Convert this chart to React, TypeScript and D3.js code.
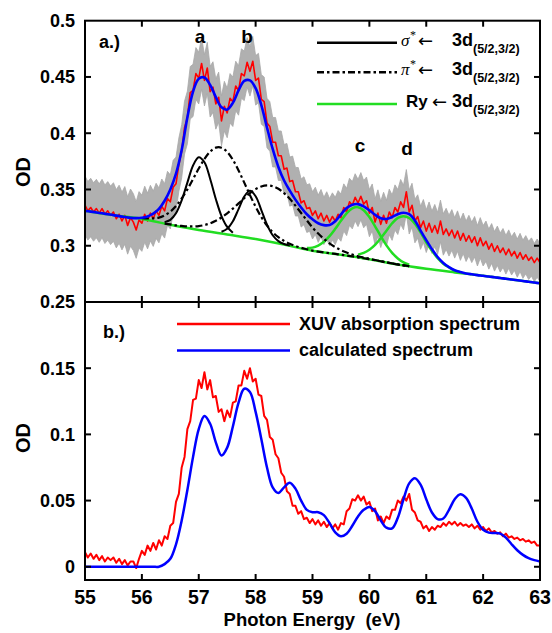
import React from 'react';
import * as d3 from 'd3';

// ---------- data ----------
const E_MIN = 55;
const E_MAX = 63;
const xTicks = [55, 56, 57, 58, 59, 60, 61, 62, 63];
const topYTicks = [0.25, 0.3, 0.35, 0.4, 0.45, 0.5];
const topYLabels = ['0.25', '0.3', '0.35', '0.4', '0.45', '0.5'];
const botYTicks = [0, 0.05, 0.1, 0.15];
const botYLabels = ['0', '0.05', '0.1', '0.15'];

// (a) measured XUV absorption, step 0.05 eV from 55
const redTopStart = 55;
const redTopStep = 0.05;
const redTop = [
  0.336, 0.331, 0.334, 0.330, 0.333, 0.329, 0.333, 0.328, 0.331, 0.327,
  0.330, 0.324, 0.328, 0.322, 0.327, 0.318, 0.325, 0.321, 0.314, 0.323,
  0.320, 0.328, 0.322, 0.329, 0.324, 0.331, 0.327, 0.335, 0.331, 0.342,
  0.339, 0.352, 0.355, 0.372, 0.384, 0.405, 0.414, 0.436, 0.438, 0.453,
  0.449, 0.462, 0.447, 0.458, 0.437, 0.441, 0.426, 0.432, 0.411, 0.424,
  0.418, 0.431, 0.428, 0.442, 0.438, 0.453, 0.451, 0.463, 0.455, 0.464,
  0.447, 0.449, 0.430, 0.428, 0.409, 0.406, 0.392, 0.392, 0.380, 0.380,
  0.368, 0.369, 0.357, 0.358, 0.348, 0.348, 0.338, 0.340, 0.333, 0.334,
  0.327, 0.331, 0.324, 0.329, 0.322, 0.327, 0.321, 0.326, 0.322, 0.328,
  0.325, 0.334, 0.330, 0.339, 0.336, 0.343, 0.338, 0.344, 0.337, 0.340,
  0.329, 0.334, 0.321, 0.329, 0.319, 0.327, 0.320, 0.330, 0.325, 0.334,
  0.330, 0.339, 0.334, 0.348, 0.330, 0.336, 0.322, 0.326, 0.316, 0.322,
  0.313, 0.320, 0.312, 0.318, 0.311, 0.322, 0.310, 0.315, 0.309, 0.314,
  0.307, 0.313, 0.305, 0.311, 0.304, 0.309, 0.303, 0.308, 0.300, 0.307,
  0.300, 0.304, 0.297, 0.302, 0.295, 0.300, 0.294, 0.298, 0.292, 0.297,
  0.291, 0.295, 0.289, 0.294, 0.288, 0.292, 0.287, 0.290, 0.285, 0.289,
  0.285,
];

// error band half width (grey), knots every 0.5 eV
const bandKnotE = [55, 55.5, 56, 56.5, 57, 57.5, 58, 58.5, 59, 59.5, 60, 60.5, 61, 61.5, 62, 62.5, 63];
const bandHalf = [0.026, 0.026, 0.025, 0.024, 0.023, 0.022, 0.022, 0.022, 0.021, 0.021, 0.021, 0.020, 0.019, 0.018, 0.018, 0.017, 0.017];

// (a) fit, step 0.1 eV
const blueTopStart = 55;
const blueTopStep = 0.1;
const blueTop = [
  0.3310, 0.3303, 0.3296, 0.3288, 0.3280, 0.3272, 0.3263, 0.3255, 0.3248, 0.3245,
  0.3248, 0.3260, 0.3285, 0.3328, 0.3400, 0.3500, 0.3640, 0.3850, 0.4140, 0.4370,
  0.4485, 0.4495, 0.4430, 0.4320, 0.4230, 0.4210, 0.4270, 0.4380, 0.4465, 0.4470,
  0.4400, 0.4250, 0.4050, 0.3860, 0.3700, 0.3580, 0.3490, 0.3410, 0.3340, 0.3280,
  0.3235, 0.3200, 0.3183, 0.3185, 0.3218, 0.3278, 0.3335, 0.3365, 0.3370, 0.3350,
  0.3315, 0.3275, 0.3245, 0.3238, 0.3255, 0.3280, 0.3293, 0.3280, 0.3225, 0.3135,
  0.3050, 0.2970, 0.2900, 0.2847, 0.2810, 0.2782, 0.2766, 0.2754, 0.2746, 0.2739,
  0.2733, 0.2726, 0.2720, 0.2713, 0.2707, 0.2700, 0.2693, 0.2686, 0.2680, 0.2673,
  0.2666,
];

// Rydberg baseline, step 0.5 eV
const baseStart = 55;
const baseStep = 0.5;
const baseline = [0.3310, 0.3272, 0.3238, 0.3187, 0.3140, 0.3100, 0.3060, 0.3010, 0.2955, 0.2920, 0.2880, 0.2833, 0.2795, 0.2763, 0.2733, 0.2700, 0.2666];

// sigma* components (solid black), step 0.1
const sigma1Start = 56.4;
const sigma1 = [0.3210, 0.3230, 0.3290, 0.3404, 0.3561, 0.3713, 0.3787, 0.3742, 0.3596, 0.3416, 0.3264, 0.3167, 0.3115];
const sigma2Start = 57.4;
const sigma2 = [0.3124, 0.3151, 0.3218, 0.3326, 0.3437, 0.3488, 0.3440, 0.3317, 0.3187, 0.3093, 0.3041, 0.3015, 0.3003];

// pi* components (dash-dot black), step 0.1
const pi1Start = 56.0;
const pi1 = [
  0.3245, 0.3242, 0.3244, 0.3250, 0.3270, 0.3303, 0.3353, 0.3420, 0.3501, 0.3593,
  0.3686, 0.3771, 0.3836, 0.3872, 0.3871, 0.3834, 0.3764, 0.3669, 0.3561, 0.3450,
  0.3347, 0.3255, 0.3180, 0.3120, 0.3076, 0.3043, 0.3017, 0.2998, 0.2982, 0.2969,
  0.2957, 0.2948, 0.2941, 0.2934, 0.2927, 0.2920, 0.2913, 0.2905, 0.2897, 0.2889,
  0.2880, 0.2871, 0.2862, 0.2852, 0.2843, 0.2833, 0.2826, 0.2818,
];
const pi2Start = 56.4;
const pi2 = [
  0.3197, 0.3190, 0.3181, 0.3176, 0.3172, 0.3172, 0.3175, 0.3184, 0.3199, 0.3222,
  0.3251, 0.3288, 0.3330, 0.3376, 0.3423, 0.3467, 0.3503, 0.3527, 0.3536, 0.3529,
  0.3506, 0.3468, 0.3417, 0.3356, 0.3291, 0.3226, 0.3162, 0.3108, 0.3061, 0.3021,
  0.2988, 0.2961, 0.2940, 0.2922, 0.2907, 0.2895, 0.2884, 0.2873, 0.2863, 0.2853,
  0.2843, 0.2834, 0.2826, 0.2818,
];

// Rydberg peaks c and d (green), step 0.1
const ryCStart = 58.9;
const ryC = [0.2979, 0.2983, 0.3002, 0.3035, 0.3085, 0.3150, 0.3222, 0.3288, 0.3332, 0.3343, 0.3316, 0.3255, 0.3173, 0.3085, 0.3003, 0.2937, 0.2887, 0.2852, 0.2831];
const ryDStart = 59.8;
const ryD = [0.2921, 0.2936, 0.2964, 0.3007, 0.3067, 0.3134, 0.3200, 0.3247, 0.3263, 0.3246, 0.3195, 0.3119, 0.3030, 0.2956, 0.2889, 0.2840, 0.2807, 0.2778, 0.2764];

// (b) baseline-subtracted absorption, step 0.05
const redBotStart = 55;
const redBotStep = 0.05;
const redBot = [
  0.011, 0.007, 0.010, 0.006, 0.009, 0.005, 0.008, 0.004, 0.007, 0.005,
  0.007, 0.003, 0.006, 0.002, 0.005, 0.001, 0.004, 0.004, -0.001, 0.006,
  0.012, 0.009, 0.016, 0.012, 0.018, 0.013, 0.020, 0.016, 0.023, 0.021,
  0.031, 0.033, 0.049, 0.055, 0.075, 0.083, 0.104, 0.110, 0.126, 0.127,
  0.141, 0.135, 0.147, 0.134, 0.141, 0.128, 0.129, 0.117, 0.119, 0.110,
  0.118, 0.113, 0.124, 0.125, 0.137, 0.137, 0.148, 0.142, 0.150, 0.140,
  0.142, 0.130, 0.129, 0.114, 0.111, 0.098, 0.096, 0.085, 0.082, 0.071,
  0.068, 0.057, 0.055, 0.046, 0.046, 0.040, 0.042, 0.036, 0.037, 0.033,
  0.036, 0.032, 0.035, 0.031, 0.034, 0.030, 0.033, 0.029, 0.032, 0.028,
  0.033, 0.032, 0.042, 0.044, 0.051, 0.050, 0.054, 0.050, 0.053, 0.047,
  0.049, 0.042, 0.044, 0.035, 0.038, 0.033, 0.038, 0.036, 0.043, 0.043,
  0.050, 0.048, 0.053, 0.050, 0.055, 0.043, 0.041, 0.035, 0.034, 0.029,
  0.031, 0.027, 0.030, 0.028, 0.031, 0.030, 0.033, 0.031, 0.034, 0.032,
  0.034, 0.031, 0.033, 0.031, 0.032, 0.030, 0.032, 0.029, 0.031, 0.028,
  0.030, 0.027, 0.029, 0.026, 0.027, 0.025, 0.026, 0.023, 0.025, 0.022,
  0.023, 0.021, 0.022, 0.020, 0.021, 0.019, 0.020, 0.018, 0.019, 0.016,
  0.016,
];

// (b) calculated spectrum, step 0.1
const blueBotStart = 55;
const blueBotStep = 0.1;
const blueBot = [
  0, 0, 0, 0, 0, 0, 0, 0, 0, 0,
  0, 0, 0, 0, 0.002, 0.006, 0.017, 0.035, 0.058, 0.083,
  0.104, 0.1138, 0.108, 0.094, 0.084, 0.090, 0.106, 0.124, 0.1345, 0.132,
  0.117, 0.0965, 0.075, 0.060, 0.0558, 0.060, 0.0635, 0.059, 0.050, 0.043,
  0.0412, 0.0412, 0.039, 0.033, 0.026, 0.023, 0.025, 0.031, 0.038, 0.043,
  0.0452, 0.042, 0.035, 0.0295, 0.029, 0.037, 0.051, 0.063, 0.0669, 0.062,
  0.051, 0.041, 0.036, 0.0365, 0.043, 0.051, 0.0548, 0.052, 0.044, 0.034,
  0.028, 0.0258, 0.0255, 0.025, 0.022, 0.017, 0.0125, 0.009, 0.0065, 0.005,
  0.004,
];

// ---------- helpers ----------
type Pt = [number, number];
const grid = (start: number, step: number, vals: number[]): Pt[] =>
  vals.map((v, i) => [start + i * step, v] as Pt);

const FONT = '"Liberation Sans", Arial, Helvetica, sans-serif';
const SERIF = '"Liberation Serif", "Times New Roman", serif';

const X0 = 85;
const X1 = 540;
const TOP_Y0 = 20.7;
const MID_Y = 302;
const BOT_Y1 = 580;

export default function App() {
  const x = d3.scaleLinear().domain([E_MIN, E_MAX]).range([X0, X1]);
  const yT = d3.scaleLinear().domain([0.25, 0.5]).range([MID_Y, TOP_Y0]);
  const yB = d3.scaleLinear().domain([-0.01, 0.2]).range([BOT_Y1, MID_Y]);

  const lineT = d3.line<Pt>().x((d) => x(d[0])).y((d) => yT(d[1]));
  const smoothT = d3.line<Pt>().x((d) => x(d[0])).y((d) => yT(d[1])).curve(d3.curveCatmullRom.alpha(0.5));
  const lineB = d3.line<Pt>().x((d) => x(d[0])).y((d) => yB(d[1]));
  const smoothB = d3.line<Pt>().x((d) => x(d[0])).y((d) => yB(d[1])).curve(d3.curveCatmullRom.alpha(0.5));

  const redTopPts = grid(redTopStart, redTopStep, redTop);
  const halfScale = d3.scaleLinear().domain(bandKnotE).range(bandHalf);
  const band = d3
    .area<Pt>()
    .x((d) => x(d[0]))
    .y0((d) => yT(d[1] - halfScale(d[0])))
    .y1((d) => yT(d[1] + halfScale(d[0])));

  const green = '#22dd22';
  const tickLen = 6;

  const legendRows = [
    { y: 42.7, kind: 'sigma' },
    { y: 72.3, kind: 'pi' },
    { y: 104, kind: 'ry' },
  ];

  return (
    <svg width={552} height={633} style={{ position: 'absolute', left: 0, top: 0, background: '#fff' }} fontFamily={FONT}>
      <defs>
        <clipPath id="clipTop">
          <rect x={X0} y={TOP_Y0} width={X1 - X0} height={MID_Y - TOP_Y0} />
        </clipPath>
        <clipPath id="clipBot">
          <rect x={X0} y={MID_Y} width={X1 - X0} height={BOT_Y1 - MID_Y} />
        </clipPath>
      </defs>
      <rect x={0} y={0} width={552} height={633} fill="#fff" />

      {/* ---------- panel a ---------- */}
      <g clipPath="url(#clipTop)">
        <path d={band(redTopPts) || ''} fill="#b0b0b0" stroke="#a8a8a8" strokeWidth={0.8} />
        <path d={lineT(redTopPts) || ''} fill="none" stroke="#ff0000" strokeWidth={1.6} strokeLinejoin="round" />
        <path d={smoothT(grid(baseStart, baseStep, baseline)) || ''} fill="none" stroke={green} strokeWidth={2.5} />
        <path d={smoothT(grid(ryCStart, 0.1, ryC)) || ''} fill="none" stroke={green} strokeWidth={2.5} />
        <path d={smoothT(grid(ryDStart, 0.1, ryD)) || ''} fill="none" stroke={green} strokeWidth={2.5} />
        <path d={smoothT(grid(pi1Start, 0.1, pi1)) || ''} fill="none" stroke="#000" strokeWidth={2.2} strokeDasharray="7,3,2.5,3" />
        <path d={smoothT(grid(pi2Start, 0.1, pi2)) || ''} fill="none" stroke="#000" strokeWidth={2.2} strokeDasharray="7,3,2.5,3" />
        <path d={smoothT(grid(sigma1Start, 0.1, sigma1)) || ''} fill="none" stroke="#000" strokeWidth={2} />
        <path d={smoothT(grid(sigma2Start, 0.1, sigma2)) || ''} fill="none" stroke="#000" strokeWidth={2} />
        <path d={smoothT(grid(blueTopStart, blueTopStep, blueTop)) || ''} fill="none" stroke="#0000ff" strokeWidth={2.6} />
      </g>

      {/* ---------- panel b ---------- */}
      <g clipPath="url(#clipBot)">
        <path d={lineB(grid(redBotStart, redBotStep, redBot)) || ''} fill="none" stroke="#ff0000" strokeWidth={2} strokeLinejoin="round" />
        <path d={smoothB(grid(blueBotStart, blueBotStep, blueBot)) || ''} fill="none" stroke="#0000ff" strokeWidth={2.5} />
      </g>

      {/* ---------- frames & ticks ---------- */}
      <rect x={X0} y={TOP_Y0} width={X1 - X0} height={MID_Y - TOP_Y0} fill="none" stroke="#000" strokeWidth={2} />
      <rect x={X0} y={MID_Y} width={X1 - X0} height={BOT_Y1 - MID_Y} fill="none" stroke="#000" strokeWidth={2} />

      {xTicks.slice(1, -1).map((t) => (
        <g key={'xt' + t} stroke="#000" strokeWidth={2}>
          <line x1={x(t)} x2={x(t)} y1={TOP_Y0} y2={TOP_Y0 + tickLen} />
          <line x1={x(t)} x2={x(t)} y1={MID_Y} y2={MID_Y - tickLen} />
          <line x1={x(t)} x2={x(t)} y1={MID_Y} y2={MID_Y + tickLen} />
          <line x1={x(t)} x2={x(t)} y1={BOT_Y1} y2={BOT_Y1 - tickLen} />
        </g>
      ))}
      {topYTicks.slice(1, -1).map((t) => (
        <g key={'yt' + t} stroke="#000" strokeWidth={2}>
          <line x1={X0} x2={X0 + tickLen} y1={yT(t)} y2={yT(t)} />
          <line x1={X1} x2={X1 - tickLen} y1={yT(t)} y2={yT(t)} />
        </g>
      ))}
      {botYTicks.map((t) => (
        <g key={'yb' + t} stroke="#000" strokeWidth={2}>
          <line x1={X0} x2={X0 + tickLen} y1={yB(t)} y2={yB(t)} />
          <line x1={X1} x2={X1 - tickLen} y1={yB(t)} y2={yB(t)} />
        </g>
      ))}

      {/* tick labels */}
      {topYTicks.map((t, i) => (
        <text key={'ytl' + t} x={75} y={yT(t)} dy="0.36em" textAnchor="end" fontSize={18} fontWeight="bold">
          {topYLabels[i]}
        </text>
      ))}
      {botYTicks.map((t, i) => (
        <text key={'ybl' + t} x={75} y={yB(t)} dy="0.36em" textAnchor="end" fontSize={18} fontWeight="bold">
          {botYLabels[i]}
        </text>
      ))}
      {xTicks.map((t) => (
        <text key={'xtl' + t} x={x(t)} y={604} textAnchor="middle" fontSize={19.5} fontWeight="bold">
          {String(t)}
        </text>
      ))}

      {/* axis titles */}
      <text x={312} y={626} textAnchor="middle" fontSize={18.5} fontWeight="bold" style={{ whiteSpace: 'pre' }}>
        {'Photon Energy  (eV)'}
      </text>
      <text transform="translate(30,172) rotate(-90)" textAnchor="middle" fontSize={20} fontWeight="bold">OD</text>
      <text transform="translate(30,438) rotate(-90)" textAnchor="middle" fontSize={20} fontWeight="bold">OD</text>

      {/* panel labels */}
      <text x={99} y={48} fontSize={18} fontWeight="bold">a.)</text>
      <text x={103} y={338} fontSize={18} fontWeight="bold">b.)</text>
      <text x={200} y={43} textAnchor="middle" fontSize={19} fontWeight="bold">a</text>
      <text x={247} y={43} textAnchor="middle" fontSize={19} fontWeight="bold">b</text>
      <text x={360} y={152} textAnchor="middle" fontSize={19} fontWeight="bold">c</text>
      <text x={407} y={155} textAnchor="middle" fontSize={19} fontWeight="bold">d</text>

      {/* legend a */}
      {legendRows.map((r) => (
        <g key={r.kind}>
          <line
            x1={317}
            x2={397}
            y1={r.y}
            y2={r.y}
            stroke={r.kind === 'ry' ? green : '#000'}
            strokeWidth={2.5}
            strokeDasharray={r.kind === 'pi' ? '7,3,2.5,3' : undefined}
          />
          {r.kind === 'ry' ? (
            <text x={406} y={r.y + 3} fontSize={17} fontWeight="bold">Ry</text>
          ) : (
            <>
              <text x={401} y={r.y + 3} fontSize={17} fontStyle="italic" fontFamily={SERIF}>
                {r.kind === 'sigma' ? 'σ' : 'π'}
              </text>
              <text x={410} y={r.y - 4} fontSize={12} fontFamily={SERIF}>*</text>
            </>
          )}
          <text x={r.kind === 'ry' ? 432 : 418} y={r.y + 4} fontSize={18} fontFamily='"DejaVu Sans", sans-serif'>←</text>
          <text x={452} y={r.y + 3} fontSize={18} fontWeight="bold">3d</text>
          <text x={473} y={r.y + 10} fontSize={12.5} fontWeight="bold">(5/2,3/2)</text>
        </g>
      ))}

      {/* legend b */}
      <line x1={177} x2={290} y1={324} y2={324} stroke="#ff0000" strokeWidth={2.5} />
      <line x1={177} x2={290} y1={350.5} y2={350.5} stroke="#0000ff" strokeWidth={2.5} />
      <text x={299} y={330} fontSize={18} fontWeight="bold">XUV absorption spectrum</text>
      <text x={299} y={356} fontSize={18} fontWeight="bold">calculated spectrum</text>
    </svg>
  );
}
